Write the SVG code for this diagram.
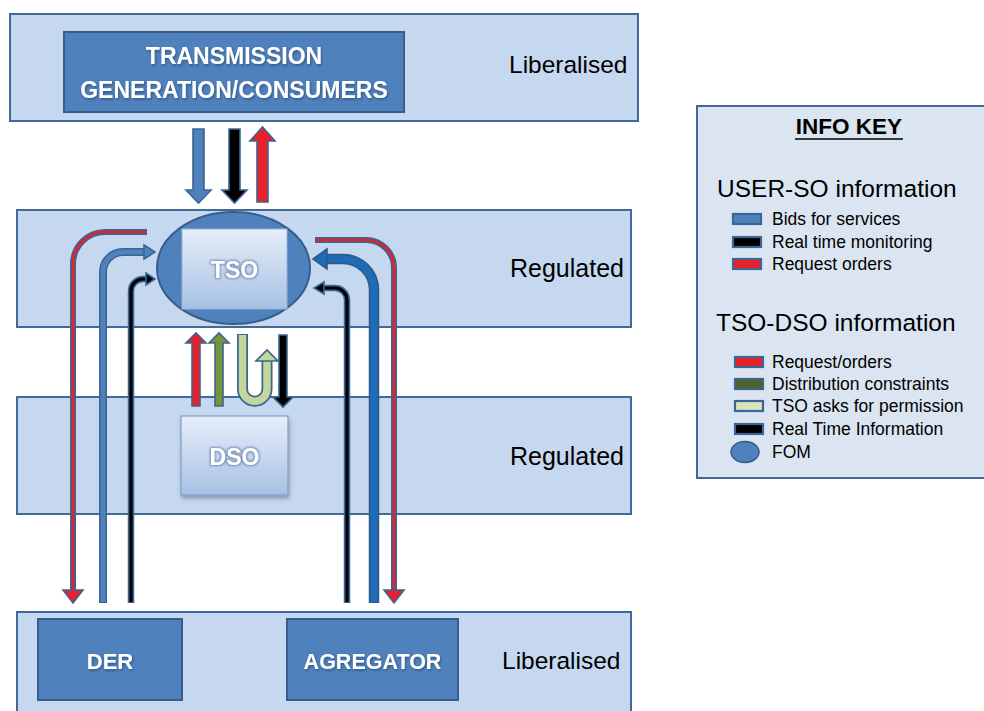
<svg xmlns="http://www.w3.org/2000/svg" width="984" height="711" viewBox="0 0 984 711">
<defs>
<style>
.band{fill:#c6d8f0;stroke:#41699a;stroke-width:2}
.box{fill:#4f81bd;stroke:#385d8a;stroke-width:2}
.lbl{font-family:"Liberation Sans",Arial,sans-serif;fill:#000}
.wt{font-family:"Liberation Sans",Arial,sans-serif;font-weight:bold;fill:#fff;text-anchor:middle}
.ol{fill:none;stroke:#3b6593;stroke-linecap:butt;stroke-linejoin:round}
.blk{stroke:#3b6593;stroke-width:1.6;stroke-linejoin:miter}
.key{font-family:"Liberation Sans",Arial,sans-serif;font-size:17.5px;fill:#000}
.sw{stroke:#3b6593;stroke-width:2.2}
</style>
<linearGradient id="g" x1="0" y1="0" x2="0" y2="1">
<stop offset="0" stop-color="#e6eef9"/>
<stop offset="1" stop-color="#a7c1e4"/>
</linearGradient>
<filter id="glow" x="-30%" y="-30%" width="160%" height="160%">
<feMorphology in="SourceAlpha" operator="dilate" radius="1" result="d"/>
<feGaussianBlur in="d" stdDeviation="1.2" result="b"/>
<feFlood flood-color="#6c87ad" flood-opacity="0.9"/>
<feComposite in2="b" operator="in" result="s"/>
<feMerge><feMergeNode in="s"/><feMergeNode in="SourceGraphic"/></feMerge>
</filter>
<filter id="tsh" x="-10%" y="-20%" width="120%" height="140%">
<feDropShadow dx="1" dy="1.5" stdDeviation="0.8" flood-color="#1f3a5f" flood-opacity="0.6"/>
</filter>
<filter id="bsh" x="-10%" y="-10%" width="125%" height="130%">
<feDropShadow dx="1" dy="3" stdDeviation="2" flood-color="#000" flood-opacity="0.3"/>
</filter>
</defs>
<rect width="984" height="711" fill="#fff"/>

<g id="band-top">
<rect class="band" x="10" y="14" width="628" height="107"/>
<text class="lbl" x="509" y="73" font-size="24.5">Liberalised</text>
</g>
<g id="band-tso">
<rect class="band" x="17" y="210" width="614" height="117"/>
<text class="lbl" x="510" y="277" font-size="25">Regulated</text>
</g>
<g id="band-dso">
<rect class="band" x="17" y="397" width="614" height="117"/>
<text class="lbl" x="510" y="465" font-size="25">Regulated</text>
</g>
<g id="band-bottom">
<rect class="band" x="17" y="612" width="614" height="110"/>
<text class="lbl" x="502" y="669" font-size="24.5">Liberalised</text>
</g>

<g id="connectors">
<!-- top block arrows -->
<polygon class="blk" fill="#4f81bd" points="193,129 204,129 204,190 211,190 198.5,203 186,190 193,190"/>
<polygon class="blk" fill="#000" points="229,129 240,129 240,190 247,190 234.5,203 222,190 229,190"/>
<polygon class="blk" fill="#e8202a" points="257,202 268,202 268,141 275,141 262.5,127 250,141 257,141"/>
<!-- TSO-DSO arrows -->
<polygon class="blk" fill="#e8202a" points="192,406 200,406 200,343 206,343 196,333 186,343 192,343"/>
<polygon class="blk" fill="#77933c" points="215,406 223,406 223,343 229,343 219,333 209,343 215,343"/>
<path class="ol" stroke-width="11" d="M242.5,334 V389 A12.25,12.25 0 0 0 267,389 V361"/>
<path fill="none" stroke="#c3d69b" stroke-width="7.5" d="M242.5,335 V389 A12.25,12.25 0 0 0 267,389 V361"/>
<polygon class="blk" fill="#c3d69b" points="256,361 278,361 267,350"/>
<polygon class="blk" fill="#000" points="279,335 287,335 287,397 293,397 283,407 273,397 279,397"/>
<!-- left red: request orders TSO -> DER -->
<path class="ol" stroke-width="6" d="M147,232 H105 A32,32 0 0 0 73,264 V591"/>
<path fill="none" stroke="#e8202a" stroke-width="2.6" d="M146,232 H105 A32,32 0 0 0 73,264 V591"/>
<polygon class="blk" fill="#e8202a" points="63,590 83,590 73,603"/>
<!-- left blue: bids DER -> TSO -->
<path class="ol" stroke-width="8" d="M103,603 V272 A20,20 0 0 1 123,252 H145"/>
<path fill="none" stroke="#4f81bd" stroke-width="5" d="M103,602 V272 A20,20 0 0 1 123,252 H145"/>
<polygon class="blk" fill="#4f81bd" points="144,245 155,252 144,259"/>
<!-- left black: monitoring DER -> TSO -->
<path class="ol" stroke-width="6.5" d="M131,603 V291 A12,12 0 0 1 143,279 H147"/>
<path fill="none" stroke="#000" stroke-width="3.2" d="M131,602 V291 A12,12 0 0 1 143,279 H147"/>
<polygon class="blk" fill="#000" points="146,273 155,279 146,285"/>
<!-- right red: TSO -> AGREGATOR -->
<path class="ol" stroke-width="6" d="M315,240 H366 A28,28 0 0 1 394,268 V591"/>
<path fill="none" stroke="#e8202a" stroke-width="2.6" d="M316,240 H366 A28,28 0 0 1 394,268 V591"/>
<polygon class="blk" fill="#e8202a" points="384,590 404,590 394,603"/>
<!-- right blue: AGREGATOR -> TSO -->
<path fill="none" stroke="#2d5a8a" stroke-width="10.5" d="M374,603 V290 A31,31 0 0 0 343,259 H326"/>
<path fill="none" stroke="#1f6bb5" stroke-width="7.5" d="M374,602 V290 A31,31 0 0 0 343,259 H326"/>
<polygon fill="#1f6bb5" stroke="#2d5a8a" stroke-width="1.6" points="327,249 313,259 327,269"/>
<!-- right black: AGREGATOR -> TSO -->
<path class="ol" stroke-width="6.5" d="M347,603 V300 A12,12 0 0 0 335,288 H324"/>
<path fill="none" stroke="#000" stroke-width="3.2" d="M347,602 V300 A12,12 0 0 0 335,288 H324"/>
<polygon class="blk" fill="#000" points="324,282 314,288 324,294"/>
</g>

<g id="transmission">
<rect class="box" x="64" y="32" width="340" height="80"/>
<text class="wt" x="234" y="64" font-size="23" filter="url(#tsh)">TRANSMISSION</text>
<text class="wt" x="234" y="98" font-size="23" filter="url(#tsh)">GENERATION/CONSUMERS</text>
</g>

<g id="tso">
<ellipse cx="233.5" cy="268" rx="76.5" ry="56" fill="#4f81bd" stroke="#385d8a" stroke-width="2"/>
<rect x="182" y="229" width="105" height="80" fill="url(#g)" stroke="#95b3da" stroke-width="1"/>
<text class="wt" x="234.5" y="278" font-size="23" filter="url(#glow)">TSO</text>
</g>

<g id="dso">
<rect x="181" y="416" width="107" height="79" fill="url(#g)" stroke="#7f9fcb" stroke-width="1.2" filter="url(#bsh)"/>
<text class="wt" x="234.5" y="465" font-size="23" filter="url(#glow)">DSO</text>
</g>

<g id="der">
<rect class="box" x="38" y="619" width="144" height="81"/>
<text class="wt" x="110" y="669" font-size="22" filter="url(#tsh)">DER</text>
</g>

<g id="agregator">
<rect class="box" x="287" y="619" width="171" height="81"/>
<text class="wt" x="372.5" y="669" font-size="21.5" filter="url(#tsh)">AGREGATOR</text>
</g>

<g id="info-key">
<rect x="697" y="106" width="295" height="372" fill="#dbe5f1" stroke="#41699a" stroke-width="2"/>
<text x="849" y="134" text-anchor="middle" font-family="Liberation Sans, Arial, sans-serif" font-weight="bold" font-size="22.5">INFO KEY</text>
<line x1="795" y1="139" x2="903" y2="139" stroke="#000" stroke-width="1.6"/>
<text class="lbl" x="717" y="197" font-size="24.5">USER-SO information</text>
<rect class="sw" x="733" y="214" width="28" height="10" fill="#4f81bd"/>
<text class="key" x="772" y="225">Bids for services</text>
<rect class="sw" x="733" y="237" width="28" height="10" fill="#000"/>
<text class="key" x="772" y="248">Real time monitoring</text>
<rect class="sw" x="733" y="259" width="28" height="10" fill="#e8202a"/>
<text class="key" x="772" y="270">Request orders</text>
<text class="lbl" x="716" y="331" font-size="24.5">TSO-DSO information</text>
<rect class="sw" x="735" y="357" width="28" height="10" fill="#e8202a"/>
<text class="key" x="772" y="368">Request/orders</text>
<rect class="sw" x="735" y="379" width="28" height="10" fill="#4f6228"/>
<text class="key" x="772" y="390">Distribution constraints</text>
<rect class="sw" x="735" y="401" width="28" height="10" fill="#d7e4bd"/>
<text class="key" x="772" y="412">TSO asks for permission</text>
<rect class="sw" x="735" y="424" width="28" height="10" fill="#000"/>
<text class="key" x="772" y="435">Real Time Information</text>
<ellipse cx="745" cy="452" rx="14" ry="10.5" fill="#4f81bd" stroke="#385d8a" stroke-width="1.5"/>
<text class="key" x="772" y="458">FOM</text>
</g>
</svg>
